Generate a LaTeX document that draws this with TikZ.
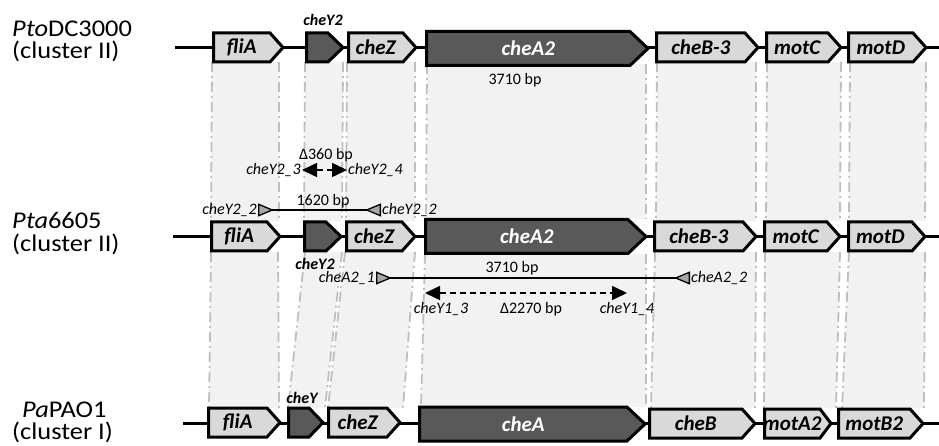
\documentclass[tikz,border=0pt]{standalone}
\usepackage{fontspec}
\setmainfont{Carlito}
\newfontfamily\rowfont{Carlito}[FakeStretch=1.1]
\usetikzlibrary{arrows.meta}
\definecolor{genelight}{HTML}{D9D9D9}
\definecolor{genedark}{HTML}{595959}
\definecolor{bandfill}{HTML}{F2F2F2}
\definecolor{bandline}{HTML}{BFBFBF}
\definecolor{primerfill}{HTML}{A6A6A6}
% name, x0, x1, yc, half height, tip depth, light/dark, label
\newcommand\genebox[8]{%
  \draw[gene #7] ({#2},{#4-#5}) -- ({#3-#6},{#4-#5}) -- ({#3},{#4}) -- ({#3-#6},{#4+#5}) -- ({#2},{#4+#5}) -- cycle;
  \node[glabel #7] (#1) at ({(#2+#3-#6)/2},{#4}) {#8};
}
% a_top, b_top, y_top, a_bot, b_bot, y_bot
\newcommand\bandpoly[6]{%
  \fill[bandfill] ({#1},{#3}) -- ({#2},{#3}) -- ({#5},{#6}) -- ({#4},{#6}) -- cycle;
  \draw[bandedge] ({#1},{#3}) -- ({#4},{#6});
  \draw[bandedge] ({#2},{#3}) -- ({#5},{#6});
}
\begin{document}
\begin{tikzpicture}[x=1pt,y=-1pt,
  gene/.style={line width=3pt, line join=miter, draw=black},
  gene light/.style={gene, fill=genelight},
  gene dark/.style={gene, fill=genedark},
  glabel/.style={font=\fontsize{21}{23}\selectfont\bfseries\itshape, inner sep=0pt},
  glabel light/.style={glabel, text=black},
  glabel dark/.style={glabel, text=white},
  bandedge/.style={draw=bandline, line width=1.8pt, dash pattern=on 10pt off 4pt on 2pt off 4pt},
  backbone/.style={line width=3pt, draw=black},
  rowlabel/.style={font=\rowfont\fontsize{24}{26}\selectfont, inner sep=0pt, anchor=base west},
  annot/.style={font=\fontsize{16}{18}\selectfont, inner sep=0pt},
  primer/.style={font=\fontsize{16}{18}\selectfont\itshape, inner sep=1pt},
  smallgene/.style={font=\fontsize{16}{18}\selectfont\bfseries\itshape, inner sep=0pt},
  primerline/.style={line width=1.3pt,
    {Triangle[reversed, length=16pt, width=13pt, fill=primerfill, line width=1.3pt]}-{Triangle[reversed, length=16pt, width=13pt, fill=primerfill, line width=1.3pt]}},
  deltaline/.style={line width=1.5pt, dash pattern=on 6pt off 4pt,
    {Triangle[length=15pt, width=14pt]}-{Triangle[length=15pt, width=14pt]}}
]
\useasboundingbox (0,0) rectangle (939,446);

% ---------- homology bands row 1 -> row 2
\bandpoly{212}{279}{62}{211}{279}{221}
\bandpoly{305}{343}{62}{304}{342}{221}
\bandpoly{347}{415}{62}{346}{415}{221}
\bandpoly{427}{646}{64}{426}{646}{219}
\bandpoly{657}{756}{62}{656}{756}{221}
\bandpoly{767}{841}{62}{766}{840}{221}
\bandpoly{850}{926}{62}{849}{925}{221}
% ---------- homology bands row 2 -> row 3
\bandpoly{211}{278}{252}{209}{279}{408}
\bandpoly{305}{342}{252}{288}{325}{408}
\bandpoly{345}{415}{252}{328}{403}{408}
\bandpoly{425}{646}{254}{421}{646}{407}
\bandpoly{655}{756}{252}{651}{755}{408}
\bandpoly{765}{840}{252}{764}{836}{408}
\bandpoly{849}{925}{252}{842}{924}{408}

% ---------- backbones
\coordinate (r1s) at (175,47.5); \coordinate (r1e) at (939,47.5);
\coordinate (r2s) at (173,236.5); \coordinate (r2e) at (939,236.5);
\coordinate (r3s) at (183,423); \coordinate (r3e) at (939,423);
\draw[backbone] (r1s) -- (r1e);
\draw[backbone] (r2s) -- (r2e);
\draw[backbone] (r3s) -- (r3e);

% ---------- row 1 genes
\genebox{a1}{213.5}{283}{47.5}{14.5}{13}{light}{fliA}
\genebox{a2}{306.5}{343}{47.5}{14.5}{15}{dark}{}
\genebox{a3}{348.5}{416}{47.5}{14.5}{13}{light}{cheZ}
\genebox{a4}{426.5}{648}{48.5}{17}{18}{dark}{cheA2}
\genebox{a5}{656.5}{758}{47.5}{14.5}{13}{light}{cheB-3}
\genebox{a6}{766.5}{841}{47.5}{14.5}{13}{light}{motC}
\genebox{a7}{848.5}{926}{47.5}{14.5}{13}{light}{motD}
% ---------- row 2 genes
\genebox{b1}{211.5}{280}{236.5}{14.5}{13}{light}{fliA}
\genebox{b2}{304.5}{341}{236.5}{14.5}{15}{dark}{}
\genebox{b3}{346.5}{415}{236.5}{14.5}{13}{light}{cheZ}
\genebox{b4}{425.5}{646}{236.5}{17}{18}{dark}{cheA2}
\genebox{b5}{654.5}{756}{236.5}{14.5}{13}{light}{cheB-3}
\genebox{b6}{764.5}{840}{236.5}{14.5}{13}{light}{motC}
\genebox{b7}{848.5}{925}{236.5}{14.5}{13}{light}{motD}
% ---------- row 3 genes
\genebox{c1}{208.5}{280}{422.5}{14.5}{13}{light}{fliA}
\genebox{c2}{288.5}{323}{422.5}{14.5}{14}{dark}{}
\genebox{c3}{328.5}{400}{422.5}{14.5}{13}{light}{cheZ}
\genebox{c4}{419.5}{645}{424}{17}{18}{dark}{cheA}
\genebox{c5}{649.5}{755}{423.5}{14.5}{13}{light}{cheB}
\genebox{c6}{764.5}{831}{423.5}{14.5}{11}{light}{motA2}
\genebox{c7}{838.5}{923}{423.5}{14.5}{13}{light}{motB2}

% ---------- row labels
\node[rowlabel] (l1a) at (12,37) {\textit{Pto}DC3000};
\node[rowlabel] (l1b) at (12,59) {(cluster II)};
\node[rowlabel] (l2a) at (12,229) {\textit{Pta}6605};
\node[rowlabel] (l2b) at (12,252) {(cluster II)};
\node[rowlabel] (l3a) at (22,417) {\textit{Pa}PAO1};
\node[rowlabel] (l3b) at (12,439) {(cluster I)};

% ---------- small gene labels
\node[smallgene] (t1) at (323,20) {cheY2};
\node[smallgene] (t2) at (315,264) {cheY2};
\node[smallgene] (t3) at (302,398) {cheY};

% ---------- size labels
\node[annot] (s1) at (515,80) {3710 bp};
\node[annot] (s2) at (326,155) {Δ360 bp};
\node[annot] (s3) at (323,201) {1620 bp};
\node[annot] (s4) at (512,268) {3710 bp};
\node[annot] (s5) at (531,309) {Δ2270 bp};

% ---------- deletion primers cheY2_3 / cheY2_4
\node[primer, anchor=east] (y23) at (302,170) {cheY2\_3};
\node[primer, anchor=west] (y24) at (347,170) {cheY2\_4};
\draw[deltaline] (y23.east) -- (y24.west);

% ---------- primers cheY2_2 (1620 bp)
\node[primer, anchor=east] (y22a) at (258,210) {cheY2\_2};
\node[primer, anchor=west] (y22b) at (381,210) {cheY2\_2};
\draw[primerline] (y22a.east) -- (y22b.west);

% ---------- primers cheA2_1 / cheA2_2 (3710 bp)
\node[primer, anchor=east] (a21) at (376,278) {cheA2\_1};
\node[primer, anchor=west] (a22) at (690,278) {cheA2\_2};
\draw[primerline] (a21.east) -- (a22.west);

% ---------- deletion cheY1_3 / cheY1_4
\coordinate (d3) at (425,293);
\coordinate (d4) at (627,293);
\draw[deltaline] (d3) -- (d4);
\node[primer] (y13) at (441,309) {cheY1\_3};
\node[primer] (y14) at (627,309) {cheY1\_4};
\end{tikzpicture}
\end{document}
